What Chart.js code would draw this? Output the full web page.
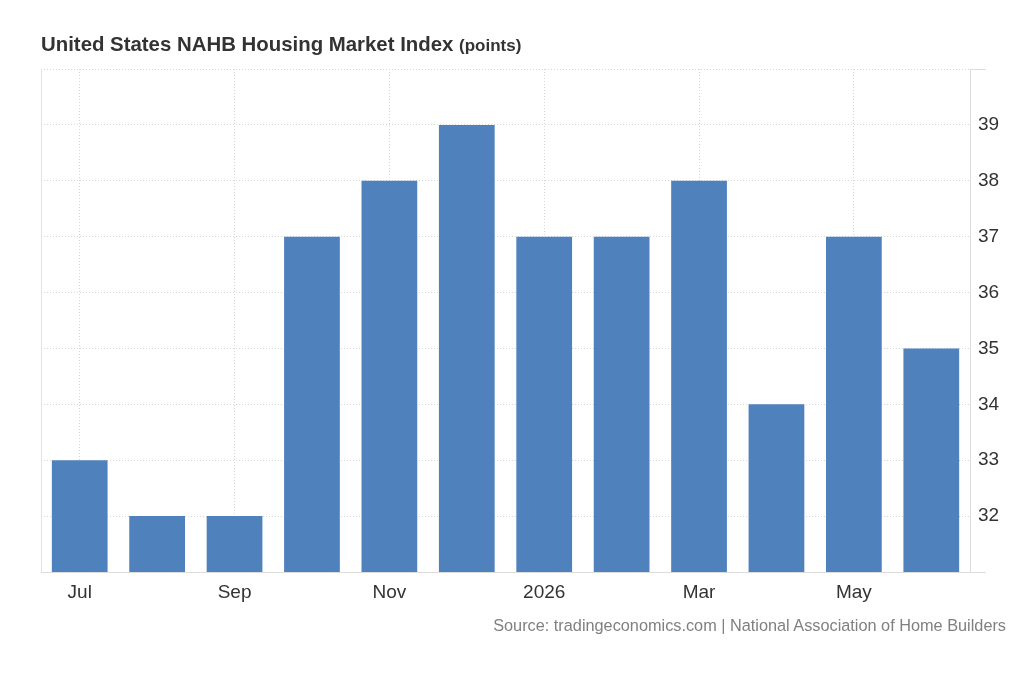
<!DOCTYPE html>
<html>
<head>
<meta charset="utf-8">
<script src="https://cdn.jsdelivr.net/npm/chart.js@4"></script>
<style>
  html, body { margin:0; padding:0; background:#fff; width:1024px; height:700px; overflow:hidden; font-family:"Liberation Sans", Arial, sans-serif; }
  #wrap { position:absolute; left:0; top:0; width:1024px; height:700px; }
  #title { position:absolute; left:41px; top:33px; font-weight:bold; font-size:20.4px; line-height:23px; color:#333; white-space:nowrap; letter-spacing:0; }
  #title small { font-size:17px; }
  #source { position:absolute; right:18px; top:616px; font-size:16.3px; line-height:19px; color:#808080; white-space:nowrap; }
</style>
</head>
<body>
<div id="wrap"><canvas id="c" width="1024" height="700"></canvas></div>
<div id="title">United States NAHB Housing Market Index <small>(points)</small></div>
<div id="source">Source: tradingeconomics.com | National Association of Home Builders</div>
<script>
const categories = ["Jul","Aug","Sep","Oct","Nov","Dec","2026","Feb","Mar","Apr","May","Jun"];
const values = [33, 32, 32, 37, 38, 39, 37, 37, 38, 34, 37, 35];
const yMin = 31;
const yMax = 40;

const leftBorder = {
  id: 'leftBorder',
  beforeDatasetsDraw(chart) {
    const {ctx, chartArea} = chart;
    ctx.save();
    ctx.strokeStyle = '#e3e3e3';
    ctx.lineWidth = 1;
    ctx.beginPath();
    ctx.moveTo(chartArea.left + 0.5, chartArea.top);
    ctx.lineTo(chartArea.left + 0.5, chartArea.bottom);
    ctx.stroke();
    ctx.restore();
  }
};

new Chart(document.getElementById('c'), {
  type: 'bar',
  data: {
    labels: categories,
    datasets: [{
      data: values,
      backgroundColor: '#4f81bd',
      borderWidth: 0,
      barPercentage: 0.72,
      categoryPercentage: 1.0
    }]
  },
  options: {
    responsive: false,
    animation: false,
    devicePixelRatio: 1,
    layout: { padding: { left: 41, top: 69, right: 0, bottom: 98 } },
    plugins: { legend: { display: false }, tooltip: { enabled: false }, title: { display: false } },
    scales: {
      x: {
        offset: true,
        afterFit(scale) { scale.height = 30; },
        grid: {
          offset: false,
          drawTicks: false,
          color: (ctx) => (ctx.index % 2 === 0 ? '#d6d6d6' : 'rgba(0,0,0,0)'),
          lineWidth: 1
        },
        border: { display: true, color: '#dcdcdc', dash: [1, 2] },
        ticks: {
          autoSkip: false,
          maxRotation: 0,
          padding: 9,
          color: '#333',
          font: { family: '"Liberation Sans", Arial, sans-serif', size: 19 },
          callback: function(v, i) { return i % 2 === 0 ? categories[i] : ''; }
        }
      },
      y: {
        position: 'right',
        min: yMin,
        max: yMax,
        afterFit(scale) { scale.width = 54; },
        grid: {
          color: '#d6d6d6',
          lineWidth: 1,
          drawTicks: true,
          tickLength: 16,
          tickColor: (ctx) => ((ctx.tick && (ctx.tick.value === yMin || ctx.tick.value === yMax)) ? '#dcdcdc' : 'rgba(0,0,0,0)')
        },
        border: { display: true, color: '#dcdcdc', dash: [1, 2] },
        ticks: {
          stepSize: 1,
          padding: -8,
          color: '#333',
          font: { family: '"Liberation Sans", Arial, sans-serif', size: 19 },
          callback: function(v) { return (v === yMin || v === yMax) ? '' : v; }
        }
      }
    }
  },
  plugins: [leftBorder]
});
</script>
</body>
</html>
